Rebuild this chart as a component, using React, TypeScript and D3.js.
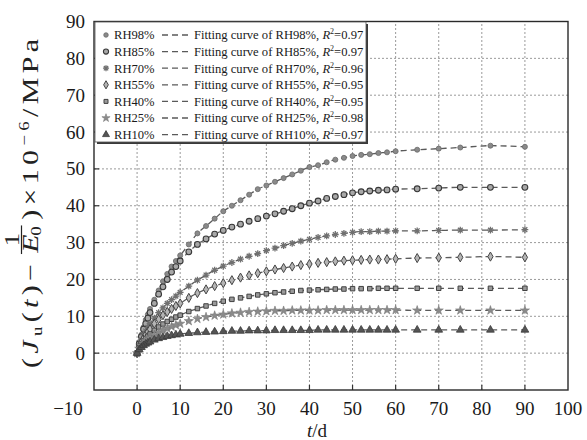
import React, { useLayoutEffect, useRef, useState } from "react";
import * as d3 from "d3";

const times = [0, 0.5, 1, 1.5, 2, 2.5, 3, 4, 5, 6, 7, 8, 9, 10, 12, 14, 16, 18, 20, 22, 24, 26, 28, 30, 32, 34, 36, 38, 40, 42, 44, 46, 48, 50, 52, 54, 56, 58, 60, 65, 70, 75, 82, 90];

const rh98 = [0, 3, 5, 7, 9, 10.5, 12, 14.5, 17, 19.5, 21.5, 23.5, 25, 26.5, 29.5, 32.5, 34.5, 36.5, 38.5, 40, 41.5, 43, 44.5, 45.5, 46.5, 47.5, 48.5, 49.5, 50.5, 51, 51.8, 52.5, 53, 53.5, 53.8, 54, 54.3, 54.5, 54.8, 55.2, 55.5, 55.8, 56.3, 56];
const rh85 = [0, 2.5, 4.5, 6.5, 8, 9.5, 11, 13.5, 16, 18, 20, 22, 23.5, 25, 27.5, 29.5, 31, 32.3, 33.3, 34.2, 35, 35.8, 36.5, 37.2, 37.8, 38.5, 39.2, 40, 40.7, 41.3, 42, 42.5, 43, 43.5, 43.8, 44, 44.2, 44.3, 44.5, 44.6, 44.8, 45, 45, 45];
const rh70 = [0, 2, 3.5, 5, 6, 7, 8, 9.5, 11, 12.3, 13.5, 14.5, 15.5, 16.5, 18.2, 19.8, 21.2, 22.5, 23.6, 24.6, 25.5, 26.3, 27, 27.8, 28.5, 29.2, 29.8, 30.4, 30.9, 31.4, 31.8, 32.2, 32.5, 32.8, 33, 33, 33.1, 33.1, 33.2, 33.2, 33.3, 33.4, 33.4, 33.5];
const rh55 = [0, 1.8, 3, 4, 5, 5.8, 6.5, 8, 9.2, 10.3, 11.2, 12, 12.8, 13.5, 15, 16.3, 17.3, 18.2, 19, 19.8, 20.5, 21.1, 21.7, 22.2, 22.7, 23.1, 23.5, 23.9, 24.2, 24.5, 24.7, 24.9, 25.1, 25.2, 25.3, 25.4, 25.4, 25.5, 25.6, 25.8, 25.9, 26, 26.2, 26];
const rh40 = [0, 1.5, 2.5, 3.3, 4, 4.6, 5.2, 6.2, 7.1, 7.9, 8.6, 9.2, 9.8, 10.3, 11.3, 12.1, 12.8, 13.5, 14.1, 14.6, 15, 15.4, 15.8, 16.1, 16.4, 16.6, 16.8, 17, 17.1, 17.2, 17.3, 17.4, 17.4, 17.5, 17.5, 17.5, 17.6, 17.6, 17.6, 17.6, 17.6, 17.6, 17.6, 17.6];
const rh25 = [0, 1.2, 2, 2.6, 3.2, 3.7, 4.1, 4.9, 5.6, 6.2, 6.7, 7.2, 7.6, 8, 8.7, 9.3, 9.8, 10.2, 10.5, 10.8, 11, 11.2, 11.3, 11.4, 11.5, 11.5, 11.6, 11.6, 11.6, 11.6, 11.7, 11.7, 11.7, 11.7, 11.7, 11.7, 11.7, 11.7, 11.7, 11.6, 11.6, 11.6, 11.6, 11.6];
const rh10 = [0, 1, 1.6, 2.1, 2.5, 2.8, 3.1, 3.6, 4, 4.3, 4.6, 4.8, 5, 5.2, 5.4, 5.6, 5.7, 5.8, 5.9, 6, 6, 6.1, 6.1, 6.1, 6.2, 6.2, 6.2, 6.2, 6.2, 6.3, 6.3, 6.3, 6.3, 6.3, 6.3, 6.3, 6.3, 6.3, 6.3, 6.3, 6.3, 6.3, 6.3, 6.3];

const seriesNames = ["RH98%", "RH85%", "RH70%", "RH55%", "RH40%", "RH25%", "RH10%"];
const r2Labels = ["0.97", "0.97", "0.96", "0.95", "0.95", "0.98", "0.97"];
const seriesValues = [rh98, rh85, rh70, rh55, rh40, rh25, rh10];
const xTicks = [0, 10, 20, 30, 40, 50, 60, 70, 80, 90, 100];
const yTicks = [0, 10, 20, 30, 40, 50, 60, 70, 80, 90];

const FONT = "'Liberation Serif', 'Times New Roman', serif";

type MarkerStyle = { kind: string; size: number; fill: string; stroke: string; sw: number };
const markerStyles: MarkerStyle[] = [
  { kind: "circle", size: 20, fill: "#8a8a8a", stroke: "#6a6a6a", sw: 0.8 },
  { kind: "circle", size: 26, fill: "#a8a8a8", stroke: "#383838", sw: 1.1 },
  { kind: "asterisk", size: 3.4, fill: "none", stroke: "#707070", sw: 1.3 },
  { kind: "diamond", size: 24, fill: "#b5b5b5", stroke: "#454545", sw: 1.0 },
  { kind: "square", size: 20, fill: "#9a9a9a", stroke: "#404040", sw: 1.0 },
  { kind: "star", size: 26, fill: "#8a8a8a", stroke: "#7a7a7a", sw: 0.6 },
  { kind: "triangle", size: 26, fill: "#555555", stroke: "#3a3a3a", sw: 0.8 },
];

function markerPath(m: MarkerStyle, scale = 1): string {
  if (m.kind === "asterisk") {
    const r = m.size * Math.sqrt(scale);
    let p = "";
    for (let i = 0; i < 4; i++) {
      const a = (i * Math.PI) / 4;
      const dx = r * Math.cos(a), dy = r * Math.sin(a);
      p += `M${-dx},${-dy}L${dx},${dy}`;
    }
    return p;
  }
  const t: any = {
    circle: d3.symbolCircle,
    diamond: d3.symbolDiamond,
    square: d3.symbolSquare,
    star: d3.symbolStar,
    triangle: d3.symbolTriangle,
  }[m.kind];
  return d3.symbol().type(t).size(m.size * scale)() as string;
}

function Marker({ m, x, y, scale = 1 }: { m: MarkerStyle; x: number; y: number; scale?: number }) {
  return (
    <path
      d={markerPath(m, scale)}
      transform={`translate(${x},${y})`}
      fill={m.fill}
      stroke={m.stroke}
      strokeWidth={m.sw}
    />
  );
}

const FS = 23;
const SUB = 14.5;

function Part1({ r, ls }: { r?: React.Ref<SVGTextElement>; ls: number }) {
  return (
    <text ref={r} x={0} y={0} letterSpacing={ls}>
      (<tspan fontStyle="italic">J</tspan>
      <tspan fontSize={SUB} dy={4}>u</tspan>
      <tspan dy={-4}>(</tspan>
      <tspan fontStyle="italic">t</tspan>)−
    </text>
  );
}

function Part2({ r, x0, ls }: { r?: React.Ref<SVGTextElement>; x0: number; ls: number }) {
  return (
    <text ref={r} x={x0} y={0} letterSpacing={ls}>
      )×10<tspan fontSize={SUB} dy={-9}>−6</tspan>
      <tspan dy={9}>/MPa</tspan>
    </text>
  );
}

function YTitle() {
  const m1 = useRef<SVGTextElement>(null);
  const m2 = useRef<SVGTextElement>(null);
  const [w, setW] = useState<{ a: number; b: number }>({ a: 58, b: 105 });
  useLayoutEffect(() => {
    if (m1.current && m2.current) {
      const a = m1.current.getComputedTextLength();
      const b = m2.current.getComputedTextLength();
      if (Math.abs(a - w.a) > 0.5 || Math.abs(b - w.b) > 0.5) setW({ a, b });
    }
  });
  const sx = 1.3;
  const span = 336;
  const fracW = 22;
  const L = span / sx;
  const natural = w.a + 2 + fracW + 2 + w.b;
  const ls = Math.max(0, (L - natural) / 19);
  const fracStart = w.a + 7 * ls + 1 + ls;
  const p2Start = fracStart + fracW + 1 + ls;
  return (
    <g fill="#222" fontSize={FS}>
      <g visibility="hidden">
        <Part1 r={m1} ls={0} />
        <Part2 r={m2} x0={0} ls={0} />
      </g>
      <g transform={`translate(38,368) rotate(-90) scale(${sx},1)`}>
        <Part1 ls={ls} />
        <text x={fracStart + fracW / 2} y={-19} textAnchor="middle" fontSize={21}>1</text>
        <line x1={fracStart} x2={fracStart + fracW} y1={-16.5} y2={-16.5} stroke="#222" strokeWidth={1.2} />
        <text x={fracStart + 1} y={-0.5} fontStyle="italic">E</text>
        <text x={fracStart + 14} y={2.5} fontSize={SUB}>0</text>
        <Part2 x0={p2Start} ls={ls} />
      </g>
    </g>
  );
}

export default function App() {
  const W = 587, H = 440;
  const x = d3.scaleLinear().domain([-10, 100]).range([94, 568]);
  const y = d3.scaleLinear().domain([-10, 90]).range([390, 21.5]);
  const line = d3
    .line<number>()
    .x((_, i) => x(times[i]))
    .y((v) => y(v))
    .curve(d3.curveMonotoneX);

  const legX = 95, legY = 22, legW = 271, legH = 120;
  const rowY = (i: number) => 35 + i * 16.6;

  return (
    <svg width={W} height={H} style={{ position: "absolute", left: 0, top: 0, fontFamily: FONT }}>
      <rect x={0} y={0} width={W} height={H} fill="#fff" />
      {xTicks.filter((t) => t < 100).map((t) => (
        <line key={"gx" + t} x1={x(t)} x2={x(t)} y1={y(-10)} y2={y(90)} stroke="#9a9a9a" strokeWidth={1} strokeDasharray="2,2" />
      ))}
      {yTicks.filter((t) => t < 90).map((t) => (
        <line key={"gy" + t} x1={x(-10)} x2={x(100)} y1={y(t)} y2={y(t)} stroke="#9a9a9a" strokeWidth={1} strokeDasharray="2,2" />
      ))}
      {xTicks.filter((t) => t < 100).map((t) => (
        <line key={"tx" + t} x1={x(t)} x2={x(t)} y1={y(-10)} y2={y(-10) - 5} stroke="#333" strokeWidth={1.2} />
      ))}
      {yTicks.filter((t) => t < 90).map((t) => (
        <line key={"ty" + t} x1={x(-10)} x2={x(-10) + 5} y1={y(t)} y2={y(t)} stroke="#333" strokeWidth={1.2} />
      ))}
      {seriesValues.map((vals, si) => (
        <g key={"s" + si}>
          <path d={line(vals) as string} fill="none" stroke="#5a5a5a" strokeWidth={1.3} strokeDasharray="6,4" />
          {vals.map((v, i) => (
            <Marker key={i} m={markerStyles[si]} x={x(times[i])} y={y(v)} />
          ))}
        </g>
      ))}
      <rect x={x(-10)} y={y(90)} width={x(100) - x(-10)} height={y(-10) - y(90)} fill="none" stroke="#2a2a2a" strokeWidth={1.4} />
      {xTicks.map((t) => (
        <text key={"lx" + t} x={x(t)} y={415} textAnchor="middle" fontSize={19} fill="#1a1a1a">{t}</text>
      ))}
      <text x={68} y={415} textAnchor="middle" fontSize={19} fill="#1a1a1a">−10</text>
      {yTicks.map((t) => (
        <text key={"ly" + t} x={85} y={y(t) + 6.5} textAnchor="end" fontSize={19} fill="#1a1a1a">{t}</text>
      ))}
      <text x={317} y={437} textAnchor="middle" fontSize={19} fill="#1a1a1a">
        <tspan fontStyle="italic">t</tspan>/d
      </text>
      <YTitle />
      <rect x={legX + 2} y={legY + 2} width={legW} height={legH} fill="#3a3a3a" />
      <rect x={legX} y={legY} width={legW} height={legH} fill="#fff" stroke="#555" strokeWidth={0.8} />
      {seriesNames.map((nm, i) => (
        <g key={"lg" + i}>
          <Marker m={markerStyles[i]} x={106} y={rowY(i)} scale={0.8} />
          <text x={114} y={rowY(i) + 4.4} fontSize={12.6} fill="#1a1a1a">{nm}</text>
          <line x1={162} x2={190} y1={rowY(i)} y2={rowY(i)} stroke="#5a5a5a" strokeWidth={1.3} strokeDasharray="6,4" />
          <text x={194} y={rowY(i) + 4.4} fontSize={12.6} fill="#1a1a1a">
            Fitting curve of {nm}, <tspan fontStyle="italic">R</tspan>
            <tspan fontSize={8} dy={-5}>2</tspan>
            <tspan dy={5}>={r2Labels[i]}</tspan>
          </text>
        </g>
      ))}
    </svg>
  );
}
